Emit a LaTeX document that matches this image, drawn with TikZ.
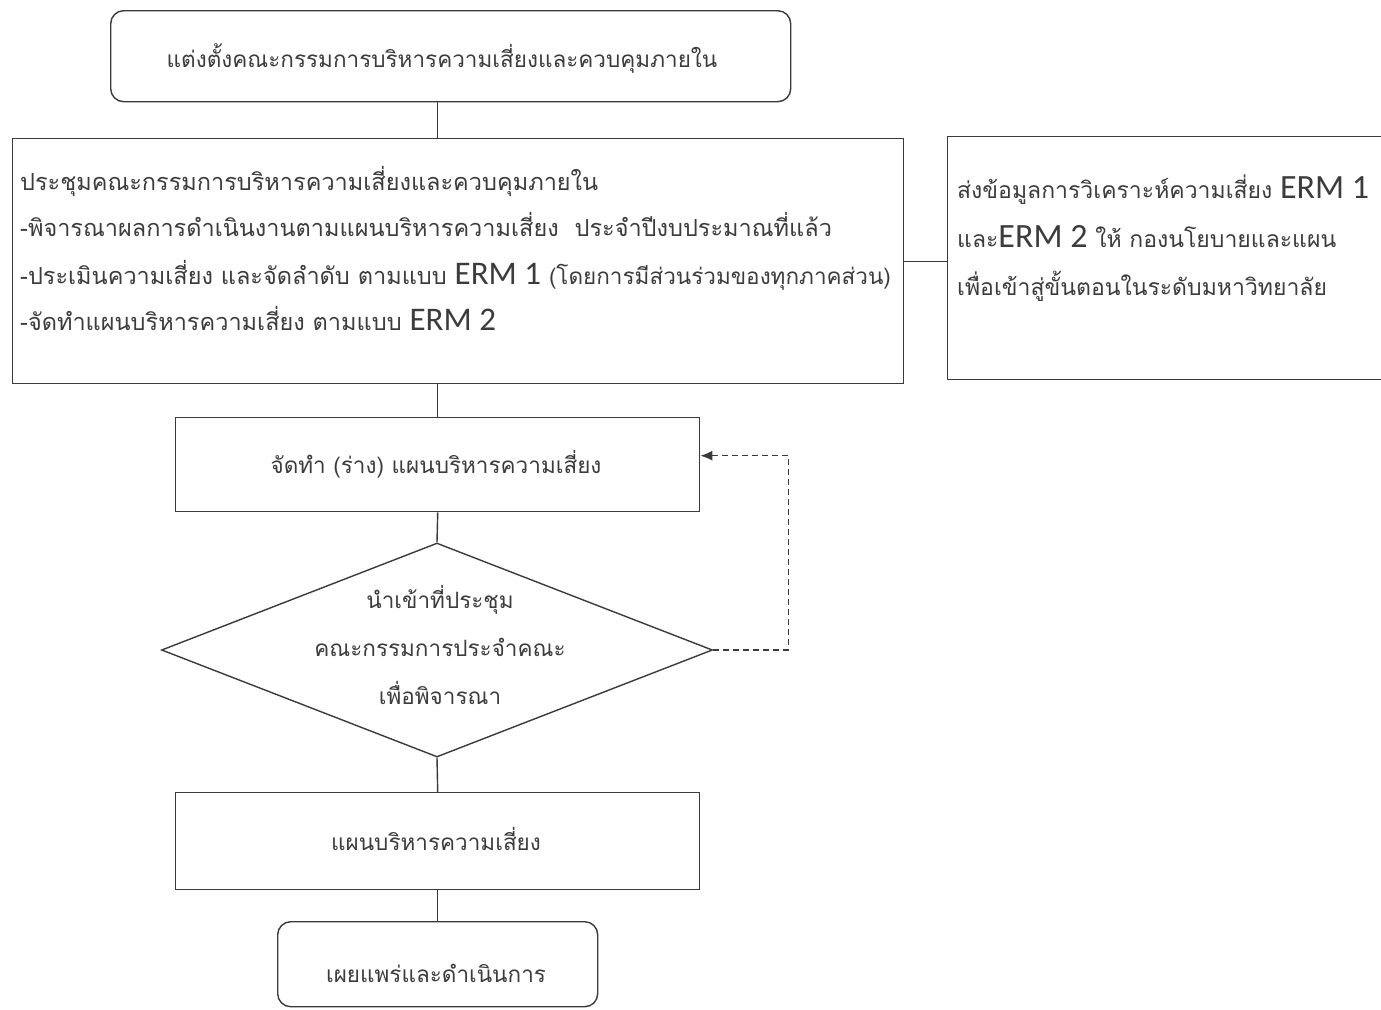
\documentclass[tikz,border=0pt]{standalone}
\usepackage{fontspec}
\newfontfamily\thai[Script=Thai]{Loma}
\newfontfamily\ermfont{Carlito}
\usetikzlibrary{shapes.geometric,arrows.meta}
\definecolor{ln}{HTML}{3A3A3A}
\definecolor{tx}{HTML}{3C3C3C}
\newcommand\ermA[1]{{\ermfont\fontsize{33}{33}\selectfont #1}}
\newcommand\ermB[1]{{\ermfont\fontsize{34}{34}\selectfont #1}}
\begin{document}
\begin{tikzpicture}[x=1pt,y=-1pt,
  box/.style={draw=ln,line width=1.4pt,inner sep=0pt,anchor=north west},
  rbox/.style={box,rounded corners=13pt},
  conn/.style={draw=ln,line width=1.4pt},
  lbl/.style={text=tx,inner sep=0pt,font=\thai\fontsize{22.5}{26}\selectfont},
  lblb/.style={lbl,font=\thai\fontsize{23.5}{27}\selectfont},
  lblr/.style={lbl,font=\thai\fontsize{23}{27}\selectfont}]
\useasboundingbox (0,0) rectangle (1381,1009);
% boxes
\node[rbox,minimum width=680,minimum height=91] (top) at (110,10) {};
\node[box,minimum width=891,minimum height=245] (b2) at (12,138) {};
\node[box,minimum width=445,minimum height=243] (rb) at (947,136) {};
\node[box,minimum width=524,minimum height=94] (b3) at (175,417) {};
\node[diamond,draw=ln,line width=1.4pt,inner sep=0pt,aspect=2.575,minimum width=551,minimum height=214] (dia) at (437,650) {};
\node[box,minimum width=524,minimum height=97] (b4) at (175,792) {};
\node[rbox,minimum width=320,minimum height=85] (b5) at (277,921) {};
% texts
\node[lbl,anchor=base] (t0) at (442,67) {แต่งตั้งคณะกรรมการบริหารความเสี่ยงและควบคุมภายใน};
\node[lblb,anchor=base west] (t1) at (20,190) {ประชุมคณะกรรมการบริหารความเสี่ยงและควบคุมภายใน};
\node[lblb,anchor=base west] (t2) at (20,236) {-พิจารณาผลการดำเนินงานตามแผนบริหารความเสี่ยง\ \ ประจำปีงบประมาณที่แล้ว};
\node[lblb,anchor=base west] (t3) at (20,284) {-ประเมินความเสี่ยง และจัดลำดับ ตามแบบ \ermA{ERM 1} {\fontsize{22.5}{26}\selectfont (โดยการมีส่วนร่วมของทุกภาคส่วน)}};
\node[lblb,anchor=base west] (t4) at (20,330) {-จัดทำแผนบริหารความเสี่ยง ตามแบบ \ermA{ERM 2}};
\node[lblr,anchor=base west] (r1) at (957,198) {ส่งข้อมูลการวิเคราะห์ความเสี่ยง \ermB{ERM 1}};
\node[lblr,anchor=base west] (r2) at (957,247) {และ\ermB{ERM 2} ให้ กองนโยบายและแผน};
\node[lblr,anchor=base west] (r3) at (957,295) {เพื่อเข้าสู่ขั้นตอนในระดับมหาวิทยาลัย};
\node[lbl,anchor=base] (t5) at (436,473) {จัดทำ (ร่าง) แผนบริหารความเสี่ยง};
\node[lbl,anchor=base] (d1) at (440,608) {นำเข้าที่ประชุม};
\node[lbl,anchor=base] (d2) at (440,656) {คณะกรรมการประจำคณะ};
\node[lbl,anchor=base] (d3) at (440,704) {เพื่อพิจารณา};
\node[lbl,anchor=base] (t6) at (436,850) {แผนบริหารความเสี่ยง};
\node[lbl,anchor=base] (t7) at (436,982) {เผยแพร่และดำเนินการ};
% connectors
\draw[conn] (top.south -| b3.north) -- (b2.north -| b3.north);
\draw[conn] (b2.south -| b3.north) -- (b3.north);
\draw[conn] (b3.south) -- (dia.north);
\draw[conn] (dia.south) -- (b4.north);
\draw[conn] (b4.south) -- (b5.north);
\draw[conn] (b2.east) -- (b2.east -| rb.west);
\draw[draw=ln,line width=1.3pt,dash pattern=on 6pt off 4pt,-{Latex[length=12pt,width=10pt]}]
  (dia.east) -- ++(75,0) |- ([yshift=9pt]b3.east);
\end{tikzpicture}
\end{document}
